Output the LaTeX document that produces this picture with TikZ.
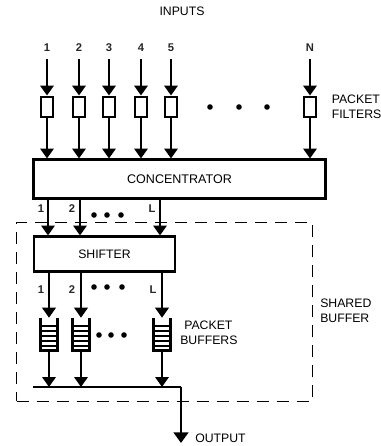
\documentclass[tikz,border=0pt]{standalone}
\usepackage{fontspec}
\setmainfont{Liberation Sans}
\usetikzlibrary{arrows.meta,calc}
\tikzset{
 lbl/.style={inner sep=0pt,font=\fontsize{9.2}{11.3}\selectfont,text=black,align=left},
 small/.style={inner sep=0pt,font=\fontsize{8.4}{10}\selectfont\bfseries,text=black!85},
 blockbox/.style={draw,line width=1.9pt,inner sep=0pt,minimum height=0pt},
 filterbox/.style={draw,line width=1.7pt,minimum width=9.5pt,minimum height=15.5pt,inner sep=0pt},
 flow/.style={line width=2pt,-{Triangle[length=7.5pt,width=10pt]}},
 dotsym/.style={circle,fill=black,inner sep=0pt,minimum size=4.2pt},
 bufnode/.style={minimum width=12.5pt,minimum height=24pt,inner sep=0pt},
}
\begin{document}
\begin{tikzpicture}[x=0.75pt,y=-0.75pt]
\useasboundingbox (0,0) rectangle (380,446);
\node[lbl] at (182,11) {INPUTS};
% blocks
\node[blockbox,minimum width=219pt,minimum height=29pt] (conc) at (179.5,179) {\fontsize{9.4}{11}\selectfont CONCENTRATOR};
\node[blockbox,minimum width=106pt,minimum height=26pt] (shift) at (104.5,254) {\fontsize{9.2}{11}\selectfont SHIFTER};
% inputs and filters
\foreach \n/\x/\t in {a/47/1,b/79/2,c/109/3,d/141/4,e/171/5,n/310/N}{
  \node[small] (in\n) at (\x,48) {\t};
  \node[filterbox] (f\n) at (\x,107) {};
  \draw[flow] (\x,59) -- (f\n.north);
  \draw[flow] (f\n.south) -- (\x,158.5);
}
\foreach \i/\x in {1/210,2/239,3/267}{\node[dotsym] (fd\i) at (\x,107) {};}
\node[lbl,anchor=north west] (pf) at (331.5,95) {PACKET\\FILTERS};
% concentrator to shifter
\foreach \n/\x in {a/48,b/80,c/160}{
  \draw[flow] (\x,199) -- (\x,235.5);
}
\node[small] (c1) at (41,209) {1};
\node[small] (c2) at (72,209) {2};
\node[small] (cl) at (152,209) {L};
\foreach \i/\x in {1/94,2/107,3/121}{\node[dotsym] (cd\i) at (\x,215) {};}
% shared buffer
\node[draw,line width=0.9pt,dash pattern=on 9pt off 6pt,minimum width=222pt,minimum height=134pt,inner sep=0pt] (sb) at (164.5,312) {};
\node[lbl,anchor=north west] (sbl) at (320,299) {SHARED\\BUFFER};
% shifter to buffers
\foreach \n/\x in {a/49,b/81,c/162}{
  \node[bufnode] (b\n) at (\x,334) {};
  \foreach \y in {326,331,336,341,346}{
    \draw[line width=1.6pt] (\x-8,\y) -- (\x+8,\y);
  }
  \draw[line width=1.9pt] (b\n.north west) -- (b\n.south west) -- (b\n.south east) -- (b\n.north east);
  \draw[flow] (\x,272) -- (b\n.north);
  \draw[flow] (b\n.south) -- (\x,387);
}
\node[small] (s1) at (41,290) {1};
\node[small] (s2) at (72,290) {2};
\node[small] (sl) at (153,290) {L};
\foreach \i/\x in {1/94,2/107,3/122}{\node[dotsym] (sd\i) at (\x,287) {};}
\foreach \i/\x in {1/99,2/111,3/124}{\node[dotsym] (bd\i) at (\x,335) {};}
\node[lbl,anchor=north west] (pb) at (180,321) {\hspace{3pt}PACKET\\BUFFERS};
% output bus
\coordinate (busl) at (33,387);
\coordinate (busr) at (181,387);
\coordinate (outp) at (181,443);
\draw[line width=2pt] (busl) -- (busr);
\draw[line width=2pt,-{Triangle[length=8pt,width=11pt]}] (busr) -- (outp);
\node[lbl,anchor=west] (ol) at (195,438) {OUTPUT};
\end{tikzpicture}
\end{document}
